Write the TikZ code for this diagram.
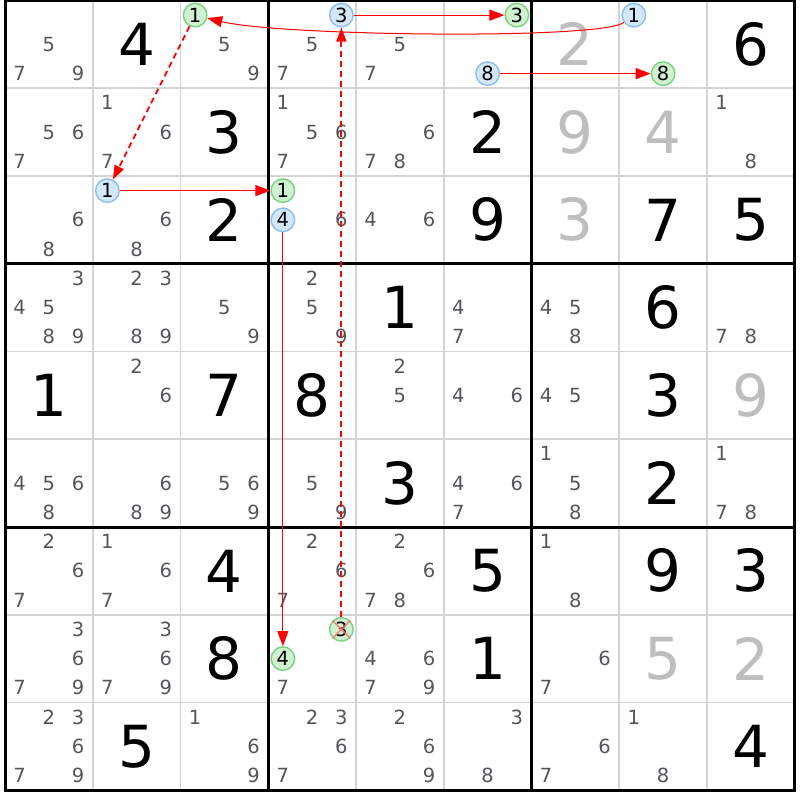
\documentclass[tikz,border=0pt]{standalone}
\usepackage{fontspec}
\setmainfont{DejaVu Sans}
\usetikzlibrary{arrows.meta}
\definecolor{candgray}{RGB}{85,85,92}
\definecolor{solvedgray}{RGB}{190,190,190}
\definecolor{gridgray}{RGB}{212,212,212}
\definecolor{bluefill}{RGB}{212,232,252}
\definecolor{bluedraw}{RGB}{140,190,240}
\definecolor{greenfill}{RGB}{208,242,208}
\definecolor{greendraw}{RGB}{120,210,130}
\definecolor{xred}{RGB}{255,110,110}
\newcommand\bigfnt{\fontsize{58}{60}\selectfont}
\newcommand\candfnt{\fontsize{19.5}{20}\selectfont}
\newcommand\candat[3]{%
  \pgfmathsetmacro\px{5+(#2-1)*87.75+(mod(#3-1,3)+0.5)*29.25}%
  \pgfmathsetmacro\py{0.5+(#1-1)*87.75+(floor((#3-1)/3)+0.5)*29.25}}
\tikzset{
  thinline/.style={draw=gridgray,line width=1.6pt},
  thickline/.style={draw=black,line width=3pt},
  cand/.style={font=\candfnt,text=candgray,inner sep=0pt,anchor=center},
  given/.style={font=\bigfnt,text=black,inner sep=0pt,anchor=center},
  solved/.style={font=\bigfnt,text=solvedgray,inner sep=0pt,anchor=center},
  bluec/.style={circle,draw=bluedraw,fill=bluefill,line width=1.4pt,minimum size=23.5pt,inner sep=0pt,font=\candfnt,text=black},
  greenc/.style={circle,draw=greendraw,fill=greenfill,line width=1.4pt,minimum size=23.5pt,inner sep=0pt,font=\candfnt,text=black},
  redarrow/.style={draw=red,line width=1pt,-{Triangle[length=15pt,width=11pt]}},
  reddash/.style={draw=red,line width=1.8pt,dash pattern=on 6pt off 4pt,-{Triangle[length=14pt,width=10pt]}},
  xmark/.style={draw=xred,line width=1.5pt,opacity=0.8}
}
\begin{document}
\begin{tikzpicture}[x=1pt,y=-1pt]
\useasboundingbox[fill=white] (0,0) rectangle (800,800);
% thin grid lines
\foreach \i in {1,2,4,5,7,8}{
  \draw[thinline] ({5+\i*87.75},0.5) -- ({5+\i*87.75},790.25);
  \draw[thinline] (5,{0.5+\i*87.75}) -- (794.75,{0.5+\i*87.75});
}
% thick box lines
\foreach \i in {0,3,6,9}{
  \draw[thickline] ({5+\i*87.75},-1) -- ({5+\i*87.75},791.75);
  \draw[thickline] (3.5,{0.5+\i*87.75}) -- (796.25,{0.5+\i*87.75});
}
% given digits
\foreach \r/\c/\d in {1/2/4,1/9/6,2/3/3,2/6/2,3/3/2,3/6/9,3/8/7,3/9/5,4/5/1,4/8/6,5/1/1,5/3/7,5/4/8,5/8/3,6/5/3,6/8/2,7/3/4,7/6/5,7/8/9,7/9/3,8/3/8,8/6/1,9/2/5,9/9/4}{
  \node[given] (g\r\c) at ({5+(\c-0.5)*87.75},{0.5+(\r-0.5)*87.75}) {\d};
}
% solved (gray) digits
\foreach \r/\c/\d in {1/7/2,2/7/9,2/8/4,3/7/3,5/9/9,8/8/5,8/9/2}{
  \node[solved] (s\r\c) at ({5+(\c-0.5)*87.75},{0.5+(\r-0.5)*87.75}) {\d};
}
% candidates
\foreach \r/\c/\l in {1/1/{5,7,9},1/3/{5,9},1/4/{5,7},1/5/{5,7},
  2/1/{5,6,7},2/2/{1,6,7},2/4/{1,5,6,7},2/5/{6,7,8},2/9/{1,8},
  3/1/{6,8},3/2/{6,8},3/4/{6},3/5/{4,6},
  4/1/{3,4,5,8,9},4/2/{2,3,8,9},4/3/{5,9},4/4/{2,5,9},4/6/{4,7},4/7/{4,5,8},4/9/{7,8},
  5/2/{2,6},5/5/{2,5},5/6/{4,6},5/7/{4,5},
  6/1/{4,5,6,8},6/2/{6,8,9},6/3/{5,6,9},6/4/{5,9},6/6/{4,6,7},6/7/{1,5,8},6/9/{1,7,8},
  7/1/{2,6,7},7/2/{1,6,7},7/4/{2,6,7},7/5/{2,6,7,8},7/7/{1,8},
  8/1/{3,6,7,9},8/2/{3,6,7,9},8/4/{7},8/5/{4,6,7,9},8/7/{6,7},
  9/1/{2,3,6,7,9},9/3/{1,6,9},9/4/{2,3,6,7},9/5/{2,6,9},9/6/{3,8},9/7/{6,7},9/8/{1,8}}{
  \foreach \n in \l {
    \candat{\r}{\c}{\n}
    \node[cand] (k\r\c\n) at (\px,\py) {\n};
  }
}
% highlighted candidates
\candat{1}{3}{1}\node[greenc] (h13a) at (\px,\py) {1};
\candat{3}{2}{1}\node[bluec] (h32a) at (\px,\py) {1};
\candat{3}{4}{1}\node[greenc] (h34a) at (\px,\py) {1};
\candat{3}{4}{4}\node[bluec] (h34b) at (\px,\py) {4};
\candat{8}{4}{4}\node[greenc] (h84b) at (\px,\py) {4};
\candat{8}{4}{3}\node[greenc] (h84a) at (\px,\py) {3};
\candat{1}{4}{3}\node[bluec] (h14a) at (\px,\py) {3};
\candat{1}{6}{3}\node[greenc] (h16a) at (\px,\py) {3};
\candat{1}{6}{8}\node[bluec] (h16b) at (\px,\py) {8};
\candat{1}{8}{8}\node[greenc] (h18b) at (\px,\py) {8};
\candat{1}{8}{1}\node[bluec] (h18a) at (\px,\py) {1};
% elimination cross
\draw[xmark] (h84a.north west) -- (h84a.south east);
\draw[xmark] (h84a.north east) -- (h84a.south west);
% chain
\draw[reddash] (h13a) -- (h32a);
\draw[redarrow] (h32a) -- (h34a);
\draw[redarrow] (h34b) -- (h84b);
\draw[reddash] (h84a) -- (h14a);
\draw[redarrow] (h14a) -- (h16a);
\draw[redarrow] (h16b) -- (h18b);
\draw[redarrow] (h18a) .. controls (600,40) and (280,36) .. (h13a);
\end{tikzpicture}
\end{document}
